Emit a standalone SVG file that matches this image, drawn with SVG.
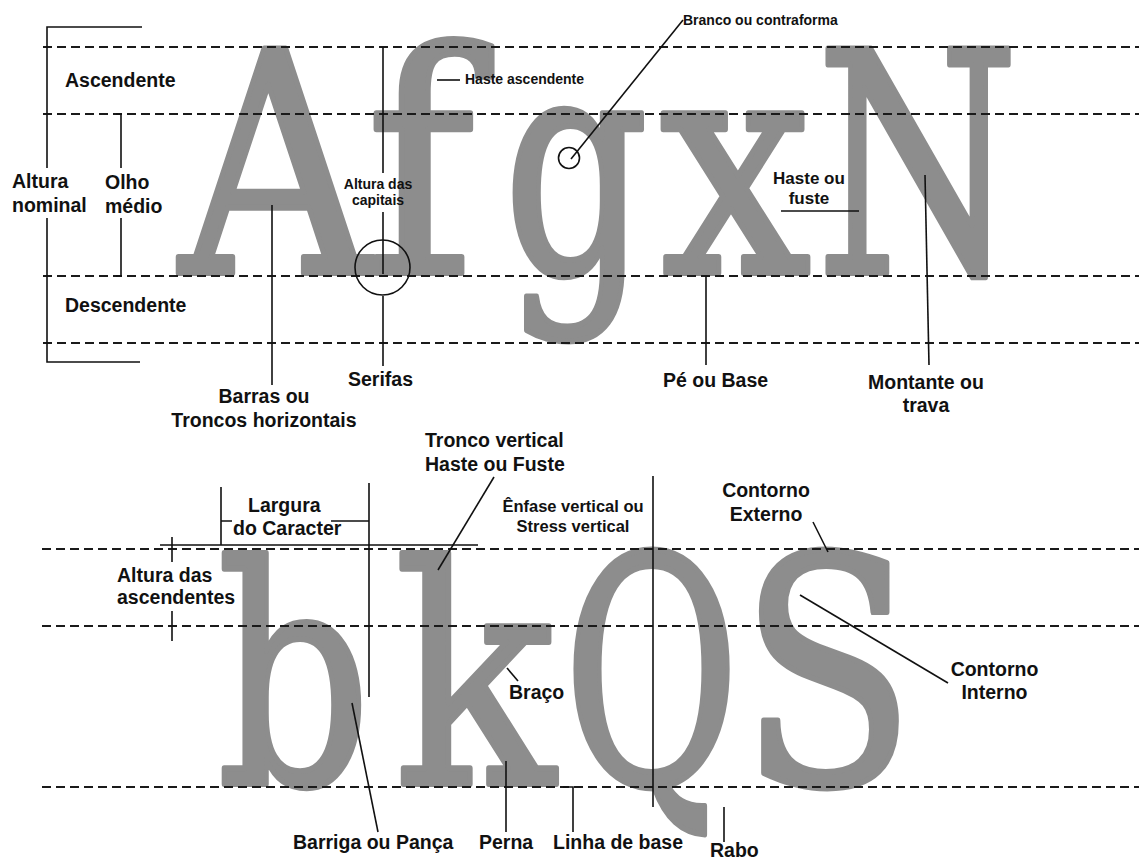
<svg xmlns="http://www.w3.org/2000/svg" width="1139" height="859" viewBox="0 0 1139 859">
<style>
.glyph{font-family:"DejaVu Serif","Liberation Serif",serif;fill:#8d8d8d;stroke:#8d8d8d;stroke-width:6;stroke-linejoin:round;text-anchor:middle}
.lbl{font-family:"Liberation Sans",Arial,sans-serif;font-weight:bold;fill:#111}
.l20{font-size:19.5px}
.l14{font-size:14px}
.l17{font-size:17px}
.l16{font-size:16.5px}
.mid{text-anchor:middle}
.dash{stroke:#1a1a1a;stroke-width:2;stroke-dasharray:9 5;fill:none}
.ln{stroke:#111;stroke-width:1.6;fill:none}
</style>
<rect width="1139" height="859" fill="#fff"/>
<g id="letters">
<text class="glyph" font-size="308" transform="translate(275.5,273) scale(0.86,1)">A</text>
<text class="glyph" font-size="308" transform="translate(420,273) scale(0.95,1)">f</text>
<text class="glyph" font-size="308" transform="translate(576,273) scale(0.735,1)">g</text>
<text class="glyph" font-size="308" transform="translate(735.5,273) scale(0.87,1)">x</text>
<text class="glyph" font-size="308" transform="translate(917.5,273) scale(0.75,1)">N</text>
<text class="glyph" font-size="304" transform="translate(294,784) scale(0.79,1)">b</text>
<text class="glyph" font-size="304" transform="translate(474.5,784) scale(0.87,1)">k</text>
<text class="glyph" font-size="316" transform="translate(651.5,784) scale(0.68,1)">Q</text>
<text class="glyph" font-size="316" transform="translate(827.5,784) scale(0.81,1)">S</text>
</g>
<g id="guides">
<path class="dash" d="M43,47H1139M43,114H1139M43,276H1139M43,343H1139"/>
<path class="dash" d="M42,549H1139M42,626H1139M42,787H1139"/>
</g>
<g id="connectors">
<path class="ln" stroke-width="2" d="M142,27H47V168M47,218V362H140"/>
<path class="ln" stroke-width="2" d="M116,114H121V168M121,218V276H116"/>
<path class="ln" d="M383,47V173M383,212V274M383,296V366"/>
<circle class="ln" cx="382.5" cy="267.5" r="27.5"/>
<path class="ln" stroke-width="3" d="M272,205V385"/>
<path class="ln" d="M437,80H460"/>
<path class="ln" d="M683,20L571,159"/>
<circle class="ln" cx="569" cy="158" r="10.5"/>
<path class="ln" d="M781,211H859"/>
<path class="ln" d="M706,276V365"/>
<path class="ln" d="M925,175L929,365"/>
<path class="ln" d="M221,487V545M221,521H232M331,521H369M369,483V697M160,545H478"/>
<path class="ln" d="M172,537V562M172,611V641"/>
<path class="ln" d="M494,477L438,570"/>
<path class="ln" d="M653,476V807"/>
<path class="ln" d="M813,522L828,552"/>
<path class="ln" d="M800,595L948,683"/>
<path class="ln" d="M507,668L518,681"/>
<path class="ln" d="M352,703L378,832"/>
<path class="ln" d="M506,761V832"/>
<path class="ln" d="M563,787H573V832"/>
<path class="ln" d="M724,807V842"/>
</g>
<g id="labels">
<text class="lbl l20" x="65" y="87">Ascendente</text>
<text class="lbl l20" x="12" y="188">Altura</text>
<text class="lbl l20" x="12" y="212">nominal</text>
<text class="lbl l20" x="105" y="189">Olho</text>
<text class="lbl l20" x="105" y="213">médio</text>
<text class="lbl l20" x="65" y="312">Descendente</text>
<text class="lbl l14 mid" x="378" y="189">Altura das</text>
<text class="lbl l14 mid" x="378" y="205">capitais</text>
<text class="lbl l20" x="348" y="386">Serifas</text>
<text class="lbl l20 mid" x="264" y="403">Barras ou</text>
<text class="lbl l20 mid" x="264" y="427">Troncos horizontais</text>
<text class="lbl l14" x="465" y="84">Haste ascendente</text>
<text class="lbl l14" x="683" y="25">Branco ou contraforma</text>
<text class="lbl l17 mid" x="809" y="184">Haste ou</text>
<text class="lbl l17 mid" x="809" y="204">fuste</text>
<text class="lbl l20" x="663" y="387">Pé ou Base</text>
<text class="lbl l20 mid" x="926" y="389">Montante ou</text>
<text class="lbl l20 mid" x="926" y="412">trava</text>
<text class="lbl l20" x="248" y="512">Largura</text>
<text class="lbl l20" x="233" y="535">do Caracter</text>
<text class="lbl l20" x="117" y="582">Altura das</text>
<text class="lbl l20" x="117" y="604">ascendentes</text>
<text class="lbl l20" x="425" y="447">Tronco vertical</text>
<text class="lbl l20" x="425" y="471">Haste ou Fuste</text>
<text class="lbl l16 mid" x="573" y="512">Ênfase vertical ou</text>
<text class="lbl l16 mid" x="573" y="532">Stress vertical</text>
<text class="lbl l20 mid" x="766" y="497">Contorno</text>
<text class="lbl l20 mid" x="766" y="521">Externo</text>
<text class="lbl l20 mid" x="994.5" y="676">Contorno</text>
<text class="lbl l20 mid" x="994.5" y="699">Interno</text>
<text class="lbl l20" x="509" y="699">Braço</text>
<text class="lbl l20" x="293" y="849">Barriga ou Pança</text>
<text class="lbl l20" x="479" y="849">Perna</text>
<text class="lbl l20" x="553" y="849">Linha de base</text>
<text class="lbl l20" x="710" y="857">Rabo</text>
</g>
</svg>
